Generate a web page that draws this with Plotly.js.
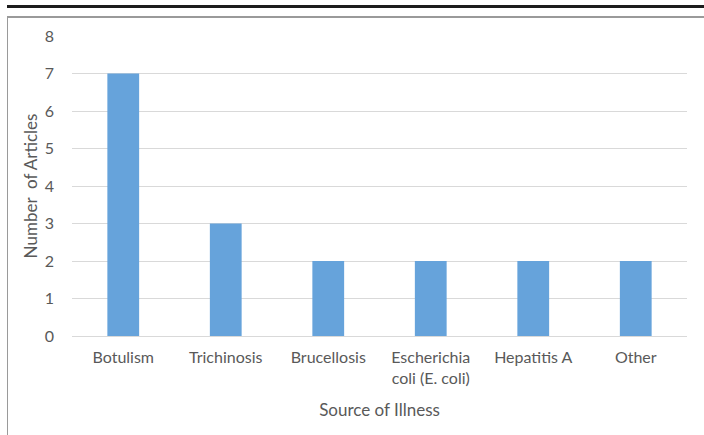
<!DOCTYPE html>
<html>
<head>
<meta charset="utf-8">
<script src="https://cdn.plot.ly/plotly-3.0.1.min.js"></script>
<style>
html,body{margin:0;padding:0;background:#fff;}
#wrap{position:relative;width:704px;height:435px;overflow:hidden;}
#chart{position:absolute;left:0;top:0;width:704px;height:435px;}
.ln{position:absolute;}
</style>
</head>
<body>
<div id="wrap">
<div id="chart"></div>
<div class="ln" style="left:7px;top:5px;width:697px;height:3px;background:#1c1c1c;"></div>
<div class="ln" style="left:7px;top:16px;width:697px;height:2px;background:#9a9a9a;"></div>
<div class="ln" style="left:7px;top:16px;width:1px;height:419px;background:#9a9a9a;"></div>
</div>
<script>
const categories = ["Botulism", "Trichinosis", "Brucellosis", "Escherichia<br>coli (E. coli)", "Hepatitis A", "Other"];
const articleCounts = [7, 3, 2, 2, 2, 2];
const yTicks = [0, 1, 2, 3, 4, 5, 6, 7, 8];

const family = "Lato, Open Sans, sans-serif";
const tickFont = {family: family, size: 16, color: "#595959"};
const titleFont = {family: family, size: 17, color: "#595959"};

const data = [{
  type: "bar",
  x: categories,
  y: articleCounts,
  marker: {color: "#66a3db"},
  hoverinfo: "none"
}];

const layout = {
  width: 704, height: 435,
  margin: {l: 72, r: 17, t: 36, b: 99},
  paper_bgcolor: "rgba(0,0,0,0)",
  plot_bgcolor: "rgba(0,0,0,0)",
  bargap: 0.69,
  showlegend: false,
  font: tickFont,
  xaxis: {
    type: "category",
    showgrid: false,
    showline: true, linecolor: "#d9d9d9", linewidth: 1,
    ticks: "",
    tickfont: tickFont,
    ticklabelstandoff: 7,
    title: {text: "Source of Illness", font: titleFont, standoff: 18}
  },
  yaxis: {
    range: [0, 8],
    tickvals: yTicks,
    ticktext: yTicks.map(String),
    showgrid: true, gridcolor: "#d9d9d9", gridwidth: 1,
    zeroline: false,
    showline: false,
    ticks: "",
    tickfont: tickFont,
    ticklabelstandoff: 17,
    title: {text: "Number&nbsp; of Articles", font: titleFont, standoff: 2}
  }
};

Plotly.newPlot("chart", data, layout, {displayModeBar: false, staticPlot: true});
</script>
</body>
</html>
